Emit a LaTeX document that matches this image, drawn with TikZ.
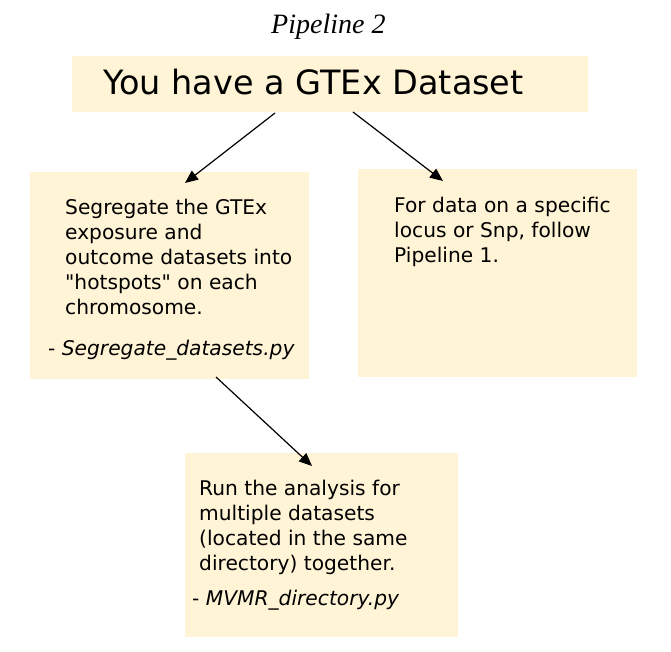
\documentclass[tikz,border=0pt]{standalone}
\usepackage{fontspec}
\setmainfont{DejaVu Sans}
\newfontfamily\titlefont{Liberation Serif}
\usetikzlibrary{arrows.meta}
\definecolor{boxfill}{RGB}{255,244,214}
\begin{document}
\begin{tikzpicture}[x=1pt,y=-1pt,
        box/.style={fill=boxfill,inner sep=0pt,outer sep=0pt},
        txt/.style={inner sep=0pt,align=left,font=\fontsize{20.2}{25}\selectfont},
        arr/.style={-{Triangle[length=13pt,width=11pt]},line width=1.2pt}]
        \useasboundingbox (0,0) rectangle (671,651);
        \node[anchor=base west,inner sep=0pt,font=\titlefont\itshape\fontsize{28}{32}\selectfont] (title) at (271,33) {Pipeline 2};
        \node[box,minimum width=516,minimum height=56] (have) at (330,84) {};
        \node[anchor=base west,inner sep=0pt,font=\fontsize{33.5}{38}\selectfont] (havetxt) at (103,94) {You have a GTEx Dataset};
        \node[box,minimum width=279,minimum height=207] (seg) at (169.5,275.5) {};
        \node[txt,anchor=north west] (segtxt) at (65,198.7) {Segregate the GTEx\\exposure and\\outcome datasets into\\\textquotedbl hotspots\textquotedbl{} on each\\chromosome.};
        \node[txt,anchor=base west] (segpy) at (48,355) {- \itshape Segregate\_datasets.py};
        \node[box,minimum width=279,minimum height=208] (snp) at (497.5,273) {};
        \node[txt,anchor=north west] (snptxt) at (394,196.7) {For data on a specific\\locus or Snp, follow\\Pipeline 1.};
        \node[box,minimum width=273,minimum height=184] (mvmr) at (321.5,545) {};
        \node[txt,anchor=north west] (mvmrtxt) at (199,479.7) {Run the analysis for\\multiple datasets\\(located in the same\\directory) together.};
        \node[txt,anchor=base west] (mvmrpy) at (192,605) {- \itshape MVMR\_directory.py};
        \coordinate (haveL) at (275,113);
        \coordinate (haveR) at (353,112);
        \coordinate (segin) at (185,183);
        \coordinate (snpin) at (443,181);
        \coordinate (segout) at (216,377);
        \coordinate (mvmrin) at (312,466);
        \draw[arr] (haveL) -- (segin);
        \draw[arr] (haveR) -- (snpin);
        \draw[arr] (segout) -- (mvmrin);
\end{tikzpicture}
\end{document}
